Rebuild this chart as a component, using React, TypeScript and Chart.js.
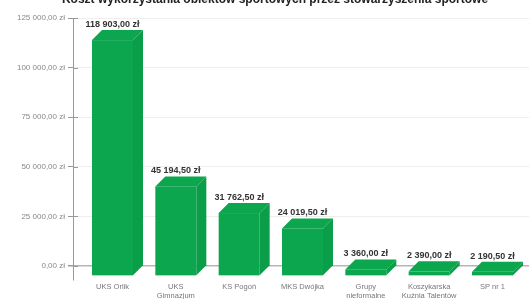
import React, { useEffect, useRef } from "react";
import { Chart, registerables } from "chart.js";

Chart.register(...registerables);

const chartTitle = "Koszt wykorzystania obiektów sportowych przez stowarzyszenia sportowe";
const categories: string[][] = [
  ["UKS Orlik"],
  ["UKS", "Gimnazjum"],
  ["KS Pogoń"],
  ["MKS Dwójka"],
  ["Grupy", "nieformalne"],
  ["Koszykarska", "Kuźnia Talentów"],
  ["SP nr 1"],
];
const values = [118903.0, 45194.5, 31762.5, 24019.5, 3360.0, 2390.0, 2190.5];
const yTicks = [0, 25000, 50000, 75000, 100000, 125000];

const FONT = "'Liberation Sans', Arial, sans-serif";
const DX = 10;
const DY = 10;

function fmt(v: number): string {
  const neg = v < 0;
  const [ip, dp] = Math.abs(v).toFixed(2).split(".");
  const grouped = ip.replace(/\B(?=(\d{3})+(?!\d))/g, " ");
  return (neg ? "-" : "") + grouped + "," + dp + " zł";
}

const box3dPlugin = {
  id: "box3d",
  afterDraw(chart: any) {
    const ctx = chart.ctx;
    const area = chart.chartArea;
    ctx.save();
    ctx.font = `bold 12px ${FONT}`;
    ctx.fillStyle = "#222";
    ctx.textAlign = "center";
    ctx.textBaseline = "middle";
    ctx.fillText(chartTitle, 275, 0);
    ctx.restore();
    const ys = chart.scales.y;
    ctx.save();
    ctx.strokeStyle = "#999";
    ctx.lineWidth = 1;
    yTicks.forEach((t) => {
      const py = Math.round(ys.getPixelForValue(t)) + 0.5;
      ctx.beginPath();
      ctx.moveTo(area.left, py);
      ctx.lineTo(area.left + 5, py);
      ctx.stroke();
    });
    ctx.restore();
  },
  afterDatasetsDraw(chart: any) {
    const ctx = chart.ctx;
    const meta = chart.getDatasetMeta(0);
    ctx.save();
    meta.data.forEach((el: any, i: number) => {
      const { x, y, base, width } = el.getProps(["x", "y", "base", "width"], true);
      const left = x - width / 2;
      const right = x + width / 2;
      const fl = left - DX;
      const fr = right - DX;
      const ft = y + DY;
      const fb = base + DY;
      ctx.fillStyle = "#0ba64e";
      ctx.fillRect(fl, ft, width, fb - ft);
      ctx.beginPath();
      ctx.moveTo(fl, ft);
      ctx.lineTo(left, y);
      ctx.lineTo(right, y);
      ctx.lineTo(fr, ft);
      ctx.closePath();
      ctx.fill();
      ctx.fillStyle = "#0a9e49";
      ctx.beginPath();
      ctx.moveTo(fr, ft);
      ctx.lineTo(right, y);
      ctx.lineTo(right, base);
      ctx.lineTo(fr, fb);
      ctx.closePath();
      ctx.fill();
      ctx.font = `bold 9px ${FONT}`;
      ctx.fillStyle = "#333";
      ctx.textAlign = "center";
      ctx.textBaseline = "bottom";
      ctx.fillText(fmt(values[i]), x - DX, y - 1);
    });
    ctx.restore();
  },
};

export default function App() {
  const ref = useRef<HTMLCanvasElement>(null);
  useEffect(() => {
    if (!ref.current) return;
    const chart = new Chart(ref.current, {
      type: "bar",
      data: {
        datasets: [
          {
            data: values.map((v, i) => ({ x: i, y: v })),
            backgroundColor: "rgba(0,0,0,0)",
            borderWidth: 0,
            barThickness: 41,
          },
        ],
      },
      options: {
        responsive: false,
        animation: false,
        devicePixelRatio: 1,
        layout: { padding: { top: 18, left: 0, right: 0, bottom: 0 } },
        plugins: {
          legend: { display: false },
          title: { display: false },
          tooltip: { enabled: false },
        },
        scales: {
          x: {
            type: "linear",
            offset: false,
            min: -0.7816,
            max: 6.4184,
            afterBuildTicks: (s: any) => {
              s.ticks = categories.map((_, i) => ({ value: i }));
            },
            afterFit: (s: any) => {
              s.height = 19;
            },
            grid: { display: false, drawTicks: false, offset: false },
            border: { display: false },
            ticks: {
              autoSkip: false,
              maxRotation: 0,
              labelOffset: -10,
              padding: 2,
              color: "#777",
              font: { family: FONT, size: 7.5, lineHeight: 1.2 },
              callback: (v: any) => categories[v as number],
            },
          },
          y: {
            min: -7000,
            max: 125000,
            afterBuildTicks: (s: any) => {
              s.ticks = yTicks.map((v) => ({ value: v }));
            },
            afterFit: (s: any) => {
              s.width = 73;
            },
            grid: {
              color: (c: any) => (c.tick && c.tick.value === 0 ? "#b5b5b5" : "#eeeeee"),
              lineWidth: (c: any) => (c.tick && c.tick.value === 0 ? 1.5 : 1),
              tickLength: 5,
              tickColor: "#999",
            },
            border: { color: "#999", width: 1 },
            ticks: {
              padding: 3,
              color: "#888",
              font: { family: FONT, size: 8 },
              callback: (v: any) => fmt(v as number),
            },
          },
        },
      },
      plugins: [box3dPlugin],
    } as any);
    return () => chart.destroy();
  }, []);
  return (
    <div style={{ position: "fixed", left: 0, top: 0, width: 529, height: 299, background: "#fff" }}>
      <canvas ref={ref} width={529} height={299} style={{ display: "block" }} />
    </div>
  );
}
